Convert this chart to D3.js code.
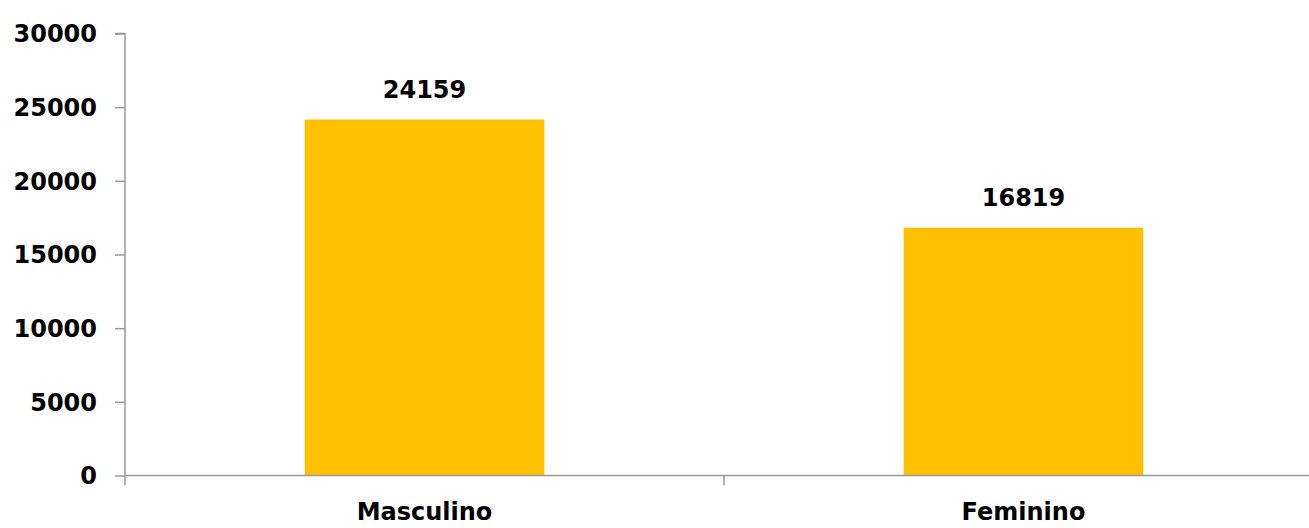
<!DOCTYPE html>
<html>
<head>
<meta charset="utf-8">
<script src="https://cdn.jsdelivr.net/npm/d3@7"></script>
<style>
html,body{margin:0;padding:0;background:#fff;}
svg{display:block;}
text{font-family:"DejaVu Sans",Verdana,sans-serif;font-weight:bold;fill:#000;}
</style>
</head>
<body>
<svg id="chart" width="1309" height="528"></svg>
<script>
const categories = ["Masculino", "Feminino"];
const values = [24159, 16819];
const yTicks = [0, 5000, 10000, 15000, 20000, 25000, 30000];

const svg = d3.select("#chart");
const x0 = 125, x1 = 1323, yTop = 33.5, yBot = 475.5;

const x = d3.scaleBand().domain(categories).range([x0, x1]).paddingInner(0).paddingOuter(0);
const y = d3.scaleLinear().domain([0, 30000]).range([yBot, yTop]);
const barW = x.bandwidth() * 0.4;

// bars
svg.selectAll("rect.bar").data(categories).join("rect")
  .attr("class", "bar")
  .attr("x", d => x(d) + (x.bandwidth() - barW) / 2)
  .attr("width", barW)
  .attr("y", (d, i) => y(values[i]))
  .attr("height", (d, i) => y(0) - y(values[i]))
  .attr("fill", "#FFC000");

// y axis
const yAxis = svg.append("g").attr("transform", `translate(${x0},0)`)
  .call(d3.axisLeft(y).tickValues(yTicks).tickSize(10).tickPadding(18).tickFormat(d3.format("d")));
yAxis.select(".domain").attr("stroke", "#999").attr("stroke-width", 1.5).attr("d", `M-10,${yTop}H0V${yBot}`);
yAxis.selectAll(".tick line").attr("stroke", "#999").attr("stroke-width", 1.5);
yAxis.selectAll(".tick text").style("font-size", "24px").attr("dy", "0.35em");

// x axis
const xAxis = svg.append("g").attr("transform", `translate(0,${yBot})`)
  .call(d3.axisBottom(x).tickSize(0).tickPadding(27));
xAxis.select(".domain").attr("stroke", "#999").attr("stroke-width", 1.5).attr("d", `M${x0},0H${x1}`);
xAxis.selectAll(".tick text").style("font-size", "24px");
const bounds = [x0, x0 + x.bandwidth(), x1];
xAxis.selectAll("line.sep").data(bounds).join("line")
  .attr("class", "sep")
  .attr("x1", d => d).attr("x2", d => d)
  .attr("y1", 0).attr("y2", 10)
  .attr("stroke", "#999").attr("stroke-width", 1.5);

// value labels
svg.selectAll("text.val").data(categories).join("text")
  .attr("class", "val")
  .attr("x", d => x(d) + x.bandwidth() / 2)
  .attr("y", (d, i) => y(values[i]) - 22)
  .attr("text-anchor", "middle")
  .style("font-size", "24px")
  .text((d, i) => values[i]);
</script>
</body>
</html>
